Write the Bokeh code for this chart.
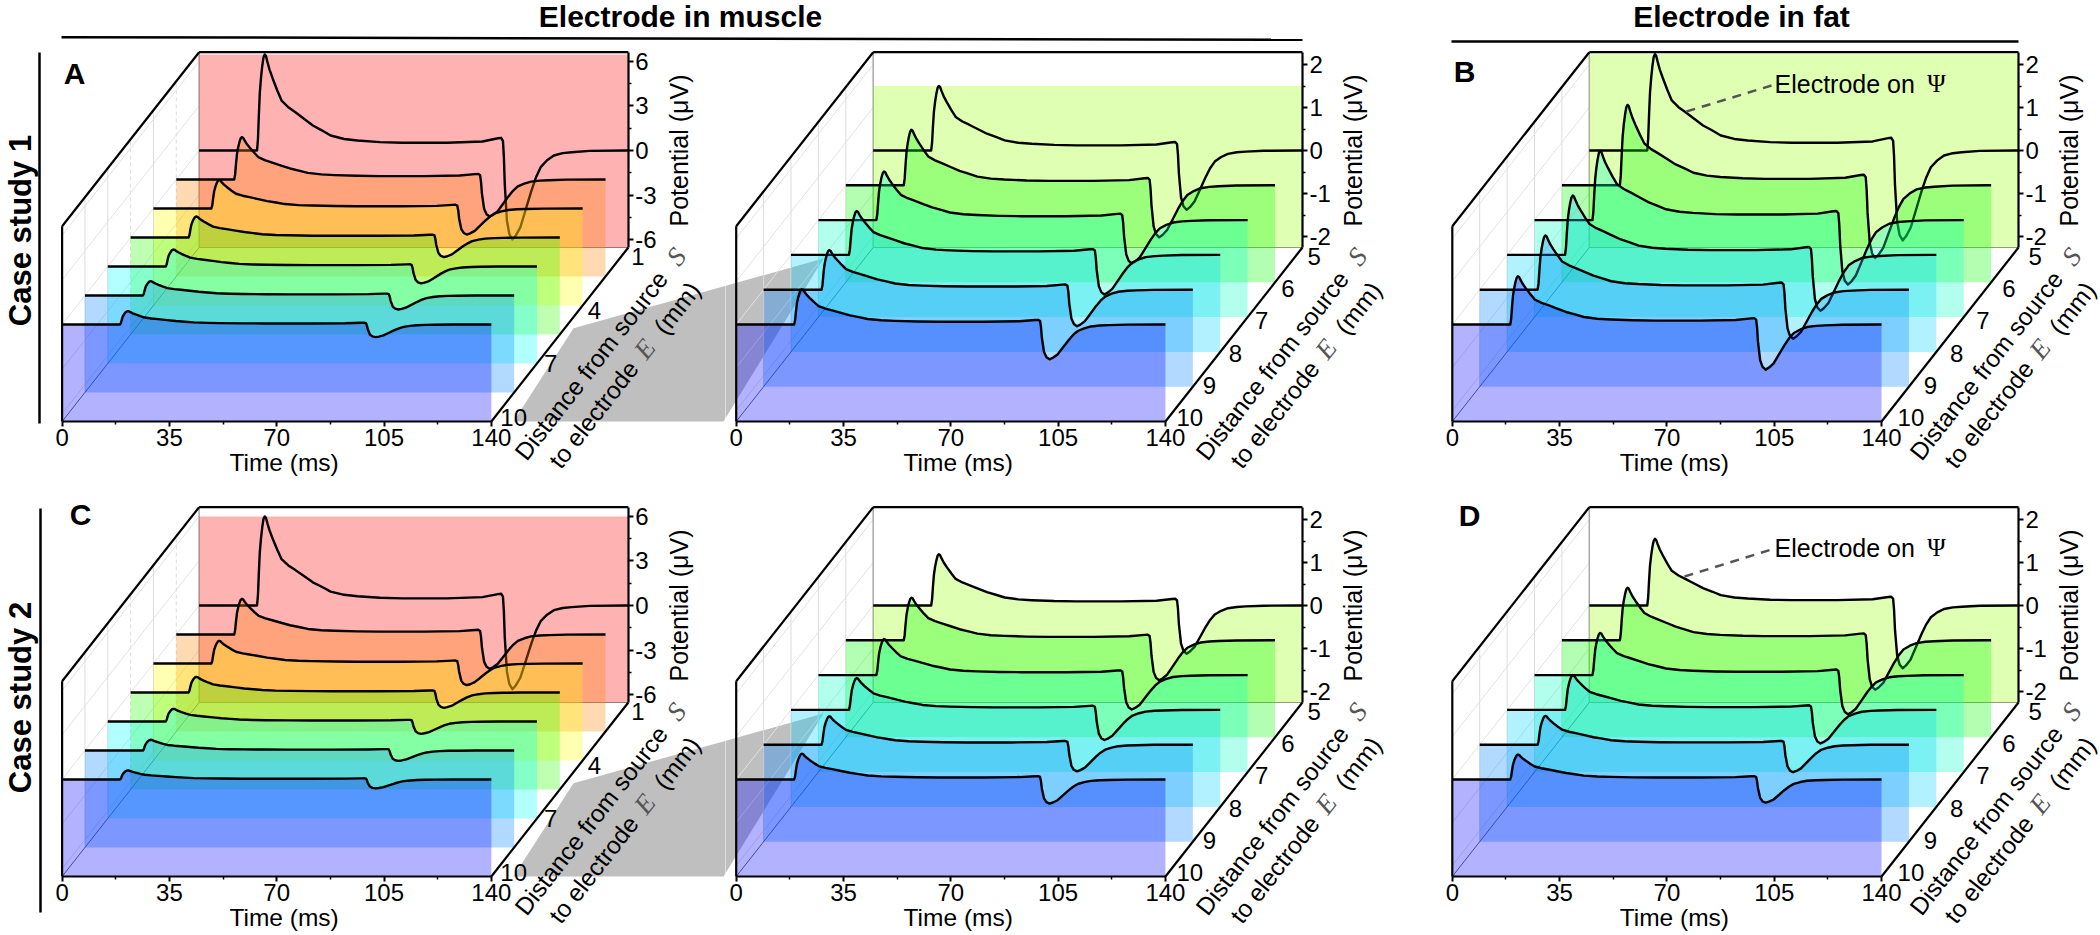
import math
from bokeh.core.properties import value
from bokeh.embed import file_html
from bokeh.layouts import column, row
from bokeh.models import FixedTicker, LinearAxis, Range1d
from bokeh.plotting import figure
from bokeh.resources import INLINE

# shared time base (ms) and the two waveform shapes
WAVE_T = [0, 18.9, 19.2, 19.5, 19.8, 20.2, 20.6, 21.0, 21.4, 21.8, 22.3, 23, 24, 25.5, 26.9, 29.1, 31.3,
          34.2, 37.1, 40, 42.9, 47.3, 51.7, 59, 66.2, 80.8, 92.4, 97.5, 98.5, 99.1, 99.4, 99.7, 100.4,
          101.2, 102.2, 103.3, 104.8, 106.3, 108.4, 109.9, 111.4, 113.5, 115.7, 118.6, 121.5, 127.4, 139, 140]
WAVE_UP = [0, 0, .12, .38, .6, .76, .88, .97, 1, .985, .92, .84, .75, .625, .52, .45, .40,
           .33, .26, .21, .156, .12, .104, .087, .08, .08, .094, .128, .132, .10, .05, 0, 0,
           0, 0, 0, 0, 0, 0, 0, 0, 0, 0, 0, 0, 0, 0, 0]
WAVE_DOWN = [0, 0, 0, 0, 0, 0, 0, 0, 0, 0, 0, 0, 0, 0, 0, 0, 0,
             0, 0, 0, 0, 0, 0, 0, 0, 0, 0, 0, 0, 0, .12, .38, .79,
             .94, 1, .955, .86, .69, .45, .30, .187, .11, .056, .03, .019, .004, 0, 0]

# peak and undershoot of each trace, back (closest source) to front, in microvolts
PEAK_A = [6.46, 2.85, 1.91, 1.41, 1.14, .96, .90]
DIP_A = [5.99, 2.49, 1.75, 1.32, 1.14, .94, .85]
PEAK_A2 = [1.50, 1.29, 1.13, 1.02, .92, .82]
DIP_A2 = [1.38, 1.21, 1.01, .92, .85, .81]
PEAK_B = [2.24, 1.87, 1.61, 1.38, 1.26, 1.12]
DIP_B = [2.09, 1.69, 1.50, 1.30, 1.14, 1.05]
PEAK_C = [5.99, 2.40, 1.52, 1.05, .85, .72, .61]
DIP_C = [5.63, 2.31, 1.46, 1.03, .83, .70, .60]
PEAK_C2 = [1.19, .99, .84, .74, .66, .60]
DIP_C2 = [1.12, .93, .80, .70, .62, .56]
PEAK_D = [1.55, 1.22, .98, .81, .67, .58]
DIP_D = [1.46, 1.15, .91, .78, .64, .54]

DEPTH_WIDE = [1, 2.5, 4, 5.5, 7, 8.5, 10]
DEPTH_NEAR = [5, 6, 7, 8, 9, 10]
DEPTH_TICKS_WIDE = [1, 4, 7, 10]
DEPTH_TICKS_NEAR = [5, 6, 7, 8, 9, 10]
TIME_TICKS = [0, 35, 70, 105, 140]
TIME_MINOR = [17.5, 52.5, 87.5, 122.5]
V_TICKS_WIDE = [-6, -3, 0, 3, 6]
V_MINOR_WIDE = [-4.5, -1.5, 1.5, 4.5]
V_TICKS_NEAR = [-2, -1, 0, 1, 2]
V_MINOR_NEAR = [-1.5, -.5, .5, 1.5]
COLORS_WIDE = ["#ff0000", "#ff8000", "#ffff00", "#28ff00", "#00ffff", "#0080ff", "#0000ff"]
COLORS_NEAR = ["#94ff00", "#00ff00", "#00ffc8", "#00d2ff", "#0080ff", "#0000ff"]

FONT = "Liberation Sans"
FS = "24px"
PXMS = 3.066
COL_EDGES = [0, 725, 1420, 2100]
ROW_EDGES = [46, 478, 935]
ROW_TOP = [51.7, 506.7]
COL_X0 = [61.6, 735.7, 1451.8]
LABEL_SHIFT = [0, 7, 5]
TICK_SHIFT = [3, 5, 10]
DT = 137 / PXMS


def put(p, x, y, s, size=FS, align="center", base="middle", angle=0.0, font=FONT, style="normal", color="black"):
    p.text(x=[x], y=[y], text=[s], text_font=value(font), text_font_size=size, text_align=align,
           text_baseline=base, angle=angle, text_font_style=style, text_color=color)


def panel(col, rw, peaks, dips, depths, dticks, colors, vticks, vminor, scale, full_back, letter=None,
          case=None, note=None):
    top = ROW_TOP[rw]
    zero = top + 98.3
    x0 = COL_X0[col]
    cx0, cx1 = COL_EDGES[col], COL_EDGES[col + 1]
    cy0, cy1 = ROW_EDGES[rw], ROW_EDGES[rw + 1]
    p = figure(width=cx1 - cx0, height=cy1 - cy0, output_backend="svg", toolbar_location=None,
               x_axis_location=None, y_axis_location=None, min_border=0,
               x_range=Range1d((cx0 - x0) / PXMS, (cx1 - x0) / PXMS),
               y_range=Range1d((zero - cy1) / scale, (zero - cy0) / scale))
    p.outline_line_color = None
    p.background_fill_color = None
    p.border_fill_color = None
    p.xgrid.visible = False
    p.ygrid.visible = False

    px = lambda page_x: (page_x - x0) / PXMS
    py = lambda page_y: (zero - page_y) / scale
    v_top = 98.3 / scale
    v_floor = -97 / scale
    DV = 174 / scale
    first, last = depths[0], depths[-1]
    # b: 0 at the back wall, 1 at the front
    bf = lambda s: (s - first) / (last - first)
    X = lambda t, b: t + (1 - b) * DT
    Y = lambda v, b: v - b * DV

    # grey band behind the first two columns
    if col < 2:
        gx = [513, 573, 823, 723]
        gy = [369.3, 276, 206.3, 369.3]
        p.patch([px(a) for a in gx], [py(top + a) for a in gy], fill_color="#bfbfbf", line_color=None)

    # walls
    wall_s = DEPTH_WIDE[1:-1] if len(depths) == 7 else depths[1:-1]
    for s in wall_s:
        b = bf(s)
        dash = "solid"
        if len(depths) == 7 and s in (2.5, 5.5):
            dash = "4 3"
        p.line([X(0, b), X(0, b)], [Y(v_floor, b), Y(v_top, b)], line_color="#dcdcdc", line_width=1, line_dash=dash)
    for v in vticks:
        p.line([X(0, 1), X(0, 0)], [Y(v, 1), Y(v, 0)], line_color="#e2e2e2", line_width=1)
    p.line([X(0, 0), X(0, 0)], [v_floor, v_top], line_color="#a8a8a8", line_width=1.5)
    p.line([X(0, 0), X(140, 0)], [v_floor, v_floor], line_color="#8c8c8c", line_width=1)
    p.line([X(0, 1), X(0, 0)], [Y(v_floor, 1), Y(v_floor, 0)], line_color="#5a6a90", line_width=1)

    # traces, back to front
    for k, s in enumerate(depths):
        b = bf(s)
        vals = [peaks[k] * u - dips[k] * w for u, w in zip(WAVE_UP, WAVE_DOWN)]
        xs = [X(t, b) for t in WAVE_T]
        ys = [Y(v, b) for v in vals]
        fl = Y(v_floor, b)
        if k == 0 and full_back:
            hi = Y(peaks[k], b)
            p.patch([X(0, b), X(140, b), X(140, b), X(0, b)], [fl, fl, hi, hi], fill_color=colors[k],
                    fill_alpha=0.3, line_color=None)
        else:
            p.patch([X(0, b)] + xs + [X(140, b)], [fl] + ys + [fl], fill_color=colors[k], fill_alpha=0.3,
                    line_color=None)
        p.line(xs, ys, line_color="black", line_width=2.4, line_join="round")

    # box
    for t0, v0, b0, t1, v1, b1 in [(0, v_floor, 1, 0, v_top, 1), (0, v_top, 1, 0, v_top, 0),
                                   (0, v_top, 0, 140, v_top, 0), (140, v_floor, 1, 140, v_floor, 0)]:
        p.line([X(t0, b0), X(t1, b1)], [Y(v0, b0), Y(v1, b1)], line_color="black", line_width=2.2)

    # real axes
    xa = LinearAxis(fixed_location=Y(v_floor, 1), bounds=(0, 140),
                    ticker=FixedTicker(ticks=TIME_TICKS, minor_ticks=TIME_MINOR))
    ya = LinearAxis(fixed_location=X(140, 0), bounds=(-97 / scale, v_top),
                    ticker=FixedTicker(ticks=vticks, minor_ticks=vminor),
                    major_label_overrides={v: str(v) for v in vticks})
    for ax in (xa, ya):
        ax.axis_line_width = 2.2
        ax.axis_line_color = "black"
        ax.major_tick_line_color = "black"
        ax.minor_tick_line_color = "black"
        ax.major_tick_line_width = 2
        ax.minor_tick_line_width = 1.5
        ax.major_tick_in = 0
        ax.major_tick_out = 5
        ax.minor_tick_in = 0
        ax.minor_tick_out = 3
        ax.major_label_text_font = FONT
        ax.major_label_text_font_size = FS
        ax.major_label_text_color = "black"
    xa.major_label_standoff = 2
    ya.major_label_standoff = 2
    p.add_layout(xa, "below")
    p.add_layout(ya, "right")
    put(p, px(x0 + 222), py(top + 409.8), "Time (ms)", size="24.5px")
    put(p, px(x0 + 429 + 137 + 51), py(zero), "Potential (\u03bcV)", size="25px", angle=math.pi / 2)

    # depth axis labels
    for s in dticks:
        b = bf(s)
        p.text(x=[X(140, b)], y=[Y(v_floor, b)], text=[f"{s:g}"], text_font=value(FONT), text_font_size=FS,
               text_align="left", text_baseline="middle", x_offset=TICK_SHIFT[col] + 6 * b, y_offset=9 - 13 * b)

    # depth title along the depth axis
    ang = math.radians(52)
    ux, uy = math.cos(ang), math.sin(ang)
    fx = x0 + 140 * PXMS
    fy = top + 369.3
    sh = LABEL_SHIFT[col]

    def along(ax, ay, dist, s, **kw):
        put(p, px(fx + ax + sh + dist * ux), py(fy + ay - dist * uy), s, align=kw.pop("align", "left"), angle=ang, **kw)

    along(28.6, 35.3, 0, "Distance from source", size="24.5px")
    along(28.6, 35.3, 254, "S", size="27px", align="center", font="Liberation Serif", style="italic", color="#555555")
    along(63, 43.4, 0, "to electrode", size="24.5px")
    along(63, 43.4, 147, "E", size="27px", align="center", font="Liberation Serif", style="italic", color="#555555")
    along(63, 43.4, 170, "(mm)", size="25px")

    if letter:
        put(p, px(letter[1]), py(letter[2]), letter[0], size="30px", style="bold")
    if case:
        put(p, px(20), py(case[1]), case[0], size="31px", style="bold", angle=math.pi / 2)
        p.line([px(case[2]), px(case[2])], [py(case[3]), py(case[4])], line_color="black", line_width=2.5)
    if note:
        ny = note[0]
        p.line([px(note[1]), px(1771)], [py(note[2]), py(ny + 2)], line_color="#555555", line_width=2.5, line_dash="9 7")
        put(p, px(1774), py(ny), "Electrode on", size="25px", align="left")
        put(p, px(1936), py(ny), "\u03a8", size="25px", font="Liberation Serif")
    return p


header = figure(width=2100, height=46, output_backend="svg", toolbar_location=None, x_axis_location=None,
                y_axis_location=None, min_border=0, x_range=Range1d(0, 2100), y_range=Range1d(46, 0))
header.outline_line_color = None
header.xgrid.visible = False
header.ygrid.visible = False
put(header, 680, 16, "Electrode in muscle", size="30px", style="bold")
put(header, 1741, 16, "Electrode in fat", size="30px", style="bold")
header.line([61, 1302], [36.7, 39.3], line_color="black", line_width=2.5)
header.line([1451, 2018], [41, 41], line_color="black", line_width=2.5)

WIDE = dict(depths=DEPTH_WIDE, dticks=DEPTH_TICKS_WIDE, colors=COLORS_WIDE, vticks=V_TICKS_WIDE,
            vminor=V_MINOR_WIDE, scale=14.87)
NEAR = dict(depths=DEPTH_NEAR, dticks=DEPTH_TICKS_NEAR, colors=COLORS_NEAR, vticks=V_TICKS_NEAR,
            vminor=V_MINOR_NEAR, scale=43.0)

a = panel(0, 0, PEAK_A, DIP_A, full_back=True, letter=("A", 74, 73), case=("Case study 1", 230, 39, 52, 423), **WIDE)
a2 = panel(1, 0, PEAK_A2, DIP_A2, full_back=True, **NEAR)
b = panel(2, 0, PEAK_B, DIP_B, full_back=True, letter=("B", 1464, 71), note=(83, 1686, 111), **NEAR)
c = panel(0, 1, PEAK_C, DIP_C, full_back=True, letter=("C", 80, 514), case=("Case study 2", 697, 40, 508, 912), **WIDE)
c2 = panel(1, 1, PEAK_C2, DIP_C2, full_back=False, **NEAR)
d = panel(2, 1, PEAK_D, DIP_D, full_back=False, letter=("D", 1469, 515), note=(547, 1684, 576), **NEAR)

page = column(header, row(a, a2, b, spacing=0), row(c, c2, d, spacing=0), spacing=0)
open("out.html", "w").write(file_html(page, INLINE))
